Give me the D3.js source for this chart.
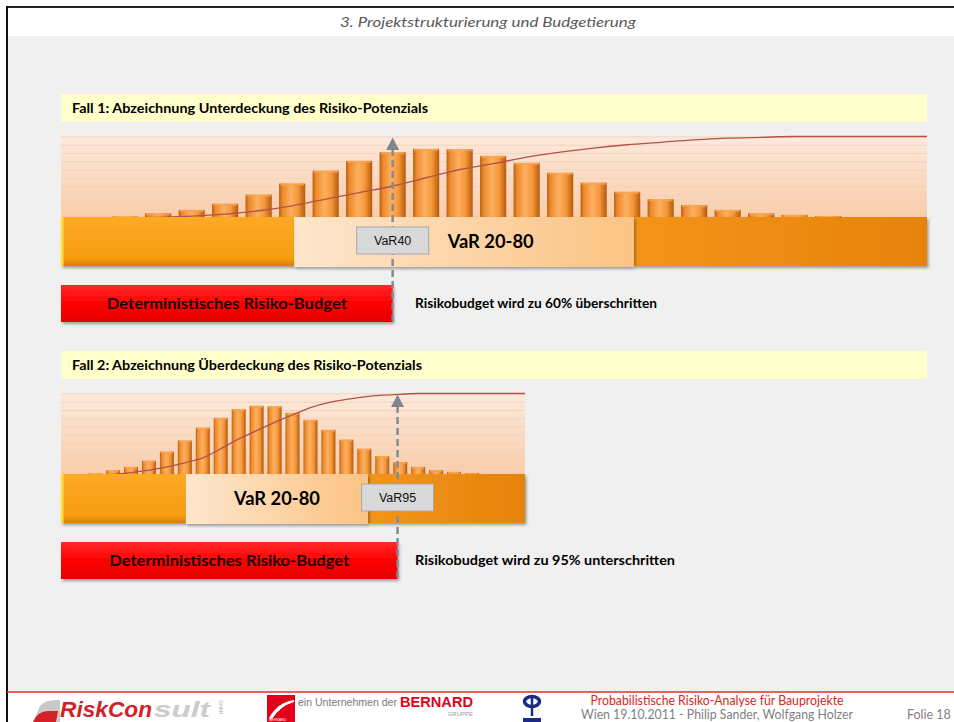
<!DOCTYPE html>
<html>
<head>
<meta charset="utf-8">
<script src="https://cdn.jsdelivr.net/npm/d3@7"></script>
<style>
  html, body { margin: 0; padding: 0; background: #fff; }
  svg { display: block; }
</style>
</head>
<body>
<script>
// bins of the loss distribution (x units), same histogram in both cases
var bins = [2, 3, 4, 5, 6, 7, 8, 9, 10, 11, 12, 13, 14, 15, 16, 17, 18, 19, 20, 21, 22, 23];
var freq = [0.3, 0.7, 1.1, 1.85, 2.95, 4.3, 5.85, 7.05, 8.1, 8.5, 8.45, 7.65, 6.8, 5.6, 4.4, 3.3, 2.4, 1.7, 1.1, 0.7, 0.5, 0.35];
var cdfFall1 = [0.01, 0.02, 0.035, 0.06, 0.1, 0.16, 0.24, 0.32, 0.40, 0.50, 0.60, 0.67, 0.75, 0.81, 0.86, 0.90, 0.93, 0.96, 0.98, 0.99, 1.0, 1.0];
var cdfFall2 = [0.01, 0.02, 0.04, 0.07, 0.11, 0.16, 0.22, 0.33, 0.45, 0.55, 0.65, 0.74, 0.83, 0.89, 0.93, 0.96, 0.98, 0.99, 1.0, 1.0, 1.0, 1.0];
var xDomain = [0.1, 25.95];
var yTicks = [1, 2, 3, 4, 5, 6, 7, 8, 9, 10];

var caseTitles = ["Fall 1: Abzeichnung Unterdeckung des Risiko-Potenzials",
                  "Fall 2: Abzeichnung Überdeckung des Risiko-Potenzials"];
var varLabels = ["VaR40", "VaR95"];
var varValues = [10.0, 18.85];
var var20 = [7.06, 7.06];
var var80 = [17.2, 17.2];
var bandLabel = "VaR 20-80";
var budgetLabel = "Deterministisches Risiko-Budget";
var resultTexts = ["Risikobudget wird zu 60% überschritten",
                   "Risikobudget wird zu 95% unterschritten"];

var W = 954, H = 722;
var calibri = "Lato, 'Open Sans', sans-serif";
var arial = "'Liberation Sans', Arial, sans-serif";

var svg = d3.select("body").append("svg").attr("width", W).attr("height", H);
var defs = svg.append("defs");

function linGrad(id, stops, vertical) {
    var g = defs.append("linearGradient").attr("id", id)
        .attr("x1", 0).attr("y1", 0)
        .attr("x2", vertical ? 0 : 1).attr("y2", vertical ? 1 : 0);
    stops.forEach(function (s) {
        g.append("stop").attr("offset", s[0]).attr("stop-color", s[1]);
    });
}
linGrad("chartBg", [[0, "#fde9dc"], [1, "#f9cca8"]], true);
linGrad("barGrad", [[0, "#b85c0c"], [0.12, "#ec8829"], [0.45, "#fdb062"], [0.72, "#f6973a"], [1, "#b45a0c"]], false);
linGrad("bandLeft", [[0, "#fdaa24"], [0.85, "#f89c10"], [1, "#d97d05"]], true);
linGrad("bandRight", [[0, "#f39416"], [1, "#e6830e"]], false);
linGrad("bandMid", [[0, "#fde6cd"], [1, "#fcc383"]], false);
linGrad("redBar", [[0, "#ff2a2a"], [0.5, "#ff0000"], [1, "#e40000"]], true);

var f = defs.append("filter").attr("id", "shadow").attr("x", "-5%").attr("y", "-20%").attr("width", "115%").attr("height", "150%");
f.append("feDropShadow").attr("dx", 1.5).attr("dy", 2).attr("stdDeviation", 1.5)
    .attr("flood-color", "#000").attr("flood-opacity", 0.35);

// slide frame
svg.append("rect").attr("x", 7).attr("y", 36).attr("width", W - 7).attr("height", 656).attr("fill", "#f0f0f0");
svg.append("line").attr("x1", 7).attr("x2", W).attr("y1", 7).attr("y2", 7).attr("stroke", "#222").attr("stroke-width", 2);
svg.append("line").attr("x1", 7).attr("x2", 7).attr("y1", 6).attr("y2", H).attr("stroke", "#111").attr("stroke-width", 2);

svg.append("text").attr("x", 488).attr("y", 27).attr("text-anchor", "middle")
    .attr("font-family", calibri).attr("font-style", "italic").attr("font-size", 14)
    .attr("fill", "#595959").attr("textLength", 296).attr("lengthAdjust", "spacingAndGlyphs")
    .text("3. Projektstrukturierung und Budgetierung");

function drawCase(k, cdf, right) {
    var g = svg.append("g").attr("transform", "translate(0," + (k * 257) + ")");
    var x = d3.scaleLinear().domain(xDomain).range([61, right]);
    var y = d3.scaleLinear().domain([0, 10]).range([219, 136.5]);
    var step = x(1) - x(0);
    var bw = step * 0.78;

    // header band
    g.append("rect").attr("x", 61).attr("y", 94).attr("width", 866).attr("height", 28).attr("fill", "#ffffcc");
    g.append("text").attr("x", 72).attr("y", 113).attr("font-family", calibri).attr("font-weight", "bold")
        .attr("font-size", 12.5).attr("fill", "#000")
        .attr("textLength", k === 0 ? 356 : 350).attr("lengthAdjust", "spacingAndGlyphs")
        .text(caseTitles[k]);

    // chart area
    g.append("rect").attr("x", 61).attr("y", y(10)).attr("width", right - 61).attr("height", y(0) - y(10))
        .attr("fill", "url(#chartBg)");
    g.append("g").attr("transform", "translate(61,0)")
        .call(d3.axisRight(y).tickValues(yTicks).tickSize(right - 61).tickFormat(""))
        .call(function (a) {
            a.select(".domain").remove();
            a.selectAll("line").attr("stroke", "#f3d3bd").attr("stroke-width", 1);
        });

    g.selectAll(".bar").data(bins).enter().append("rect")
        .attr("x", function (d) { return x(d) - bw / 2; })
        .attr("y", function (d, i) { return y(freq[i]); })
        .attr("width", bw)
        .attr("height", function (d, i) { return y(0) - y(freq[i]); })
        .attr("fill", "url(#barGrad)");
    g.selectAll(".cap").data(bins).enter().append("rect")
        .attr("x", function (d) { return x(d) - bw / 2 + 1; })
        .attr("y", function (d, i) { return y(freq[i]); })
        .attr("width", bw - 2)
        .attr("height", function (d, i) { return Math.min(2, y(0) - y(freq[i])); })
        .attr("fill", "#f9a450").attr("opacity", 0.8);

    var pts = bins.map(function (d, i) { return [d, cdf[i]]; });
    pts.push([xDomain[1], 1]);
    g.append("path").datum(pts)
        .attr("d", d3.line().x(function (d) { return x(d[0]); }).y(function (d) { return y(d[1] * 10); })
            .curve(d3.curveMonotoneX))
        .attr("fill", "none").attr("stroke", "#b4524a").attr("stroke-width", 1.3);

    // VaR band
    var bTop = 217, bH = 49;
    g.append("rect").attr("x", 61).attr("y", bTop).attr("width", x(var20[k]) - 61).attr("height", bH)
        .attr("fill", "url(#bandLeft)").attr("filter", "url(#shadow)");
    g.append("rect").attr("x", x(var80[k])).attr("y", bTop).attr("width", right - x(var80[k])).attr("height", bH)
        .attr("fill", "url(#bandRight)").attr("filter", "url(#shadow)");
    g.append("rect").attr("x", x(var20[k])).attr("y", bTop).attr("width", x(var80[k]) - x(var20[k])).attr("height", bH + 1)
        .attr("fill", "url(#bandMid)").attr("filter", "url(#shadow)");
    g.append("rect").attr("x", 61).attr("y", bTop).attr("width", 2.5).attr("height", bH).attr("fill", "#ffe033");

    // deterministic budget
    var xv = x(varValues[k]);
    g.append("rect").attr("x", 61).attr("y", 285).attr("width", xv - 61).attr("height", 37)
        .attr("fill", "url(#redBar)").attr("filter", "url(#shadow)");
    g.append("text").attr("x", (61 + xv) / 2).attr("y", 309).attr("text-anchor", "middle")
        .attr("font-family", calibri).attr("font-weight", "bold").attr("font-size", 16).attr("fill", "#1a0000")
        .attr("textLength", 240).attr("lengthAdjust", "spacingAndGlyphs")
        .text(budgetLabel);
    g.append("text").attr("x", 415).attr("y", 308)
        .attr("font-family", calibri).attr("font-weight", "bold").attr("font-size", 12.5).attr("fill", "#000")
        .attr("textLength", k === 0 ? 242 : 260).attr("lengthAdjust", "spacingAndGlyphs")
        .text(resultTexts[k]);

    // VaR arrow
    g.append("line").attr("x1", xv).attr("x2", xv).attr("y1", 149).attr("y2", 323)
        .attr("stroke", "#858b93").attr("stroke-width", 2.5).attr("stroke-dasharray", "7,4");
    g.append("path").attr("d", "M" + xv + ",137.5L" + (xv + 6.5) + ",150L" + (xv - 6.5) + ",150Z")
        .attr("fill", "#7f868f");

    g.append("rect").attr("x", xv - 36).attr("y", 227).attr("width", 72).attr("height", 27)
        .attr("fill", "#d9d9d9").attr("stroke", "#a8a8a8").attr("stroke-width", 1);
    g.append("text").attr("x", xv).attr("y", 245).attr("text-anchor", "middle")
        .attr("font-family", arial).attr("font-size", 12.5).attr("fill", "#111")
        .text(varLabels[k]);

    var lx = k === 0 ? xv + 55 : (x(var20[k]) + x(var80[k])) / 2;
    g.append("text").attr("x", lx).attr("y", 248).attr("text-anchor", k === 0 ? "start" : "middle")
        .attr("font-family", calibri).attr("font-weight", "bold").attr("font-size", 18).attr("fill", "#000")
        .attr("textLength", 86).attr("lengthAdjust", "spacingAndGlyphs")
        .text(bandLabel);
}

drawCase(0, cdfFall1, 927);
drawCase(1, cdfFall2, 525);

// footer
svg.append("line").attr("x1", 7).attr("x2", W).attr("y1", 692).attr("y2", 692).attr("stroke", "#e2302c").attr("stroke-width", 1.5);

var logo = svg.append("g");
logo.append("path").attr("d", "M33,722 L40,706 Q46,699 60,700 L60,722 Z").attr("fill", "#c9c9c9");
logo.append("path").attr("d", "M33,722 Q38,710 50,711 L58,711 L56,722 Z").attr("fill", "#d42027");
logo.append("text").attr("x", 60).attr("y", 717)
    .attr("font-family", arial).attr("font-weight", "bold").attr("font-style", "italic")
    .attr("font-size", 22).attr("fill", "#d42027").attr("textLength", 92).attr("lengthAdjust", "spacingAndGlyphs")
    .text("RiskCon");
logo.append("text").attr("x", 154).attr("y", 717)
    .attr("font-family", arial).attr("font-weight", "bold").attr("font-style", "italic")
    .attr("font-size", 22).attr("fill", "#cccccc").attr("textLength", 56).attr("lengthAdjust", "spacingAndGlyphs")
    .text("sult");
logo.append("text").attr("transform", "translate(219,700) rotate(90)")
    .attr("font-family", arial).attr("font-size", 5).attr("fill", "#aaa").text("GmbH");

svg.append("rect").attr("x", 267).attr("y", 695).attr("width", 28).attr("height", 27).attr("fill", "#e3001b");
svg.append("path").attr("d", "M269,718 Q278,702 294,700 L294,702 Q280,706 272,719 Z").attr("fill", "#fff");
svg.append("text").attr("x", 269).attr("y", 720.5).attr("font-family", arial)
    .attr("font-size", 3.5).attr("fill", "#fff").text("BERNARD");
svg.append("text").attr("x", 298).attr("y", 706).attr("font-family", arial)
    .attr("font-size", 10).attr("fill", "#7a7a7a").attr("textLength", 99).attr("lengthAdjust", "spacingAndGlyphs")
    .text("ein Unternehmen der");
svg.append("text").attr("x", 473).attr("y", 707).attr("text-anchor", "end").attr("font-family", arial)
    .attr("font-size", 15).attr("font-weight", "bold").attr("fill", "#e3001b").attr("textLength", 73).attr("lengthAdjust", "spacingAndGlyphs")
    .text("BERNARD");
svg.append("text").attr("x", 473).attr("y", 715.5).attr("text-anchor", "end").attr("font-family", arial)
    .attr("font-size", 6).attr("fill", "#999").text("GRUPPE");

svg.append("ellipse").attr("cx", 532).attr("cy", 701.5).attr("rx", 7.5).attr("ry", 5).attr("fill", "none")
    .attr("stroke", "#1b2a86").attr("stroke-width", 3.5);
svg.append("line").attr("x1", 532).attr("x2", 532).attr("y1", 695).attr("y2", 716).attr("stroke", "#1b2a86").attr("stroke-width", 2.5);
svg.append("rect").attr("x", 523).attr("y", 718).attr("width", 18).attr("height", 4).attr("fill", "#1b2a86");

svg.append("text").attr("x", 717).attr("y", 705).attr("text-anchor", "middle").attr("font-family", calibri)
    .attr("font-size", 12.5).attr("fill", "#e2231a").attr("textLength", 253).attr("lengthAdjust", "spacingAndGlyphs")
    .text("Probabilistische Risiko-Analyse für Bauprojekte");
svg.append("text").attr("x", 581).attr("y", 719).attr("font-family", calibri)
    .attr("font-size", 12.5).attr("fill", "#7f7f7f").attr("textLength", 272).attr("lengthAdjust", "spacingAndGlyphs")
    .text("Wien  19.10.2011 - Philip Sander, Wolfgang Holzer");
svg.append("text").attr("x", 907).attr("y", 719).attr("font-family", calibri)
    .attr("font-size", 12.5).attr("fill", "#7f7f7f").text("Folie 18");
</script>
</body>
</html>
